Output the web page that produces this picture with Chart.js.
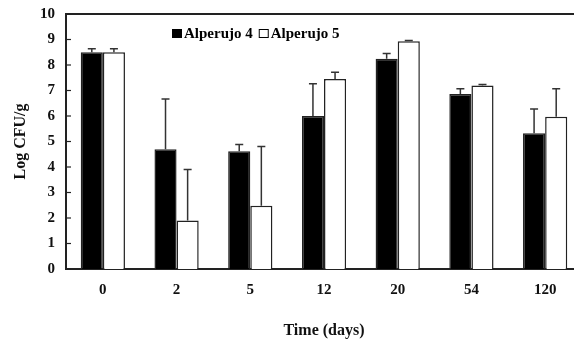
<!DOCTYPE html>
<html>
<head>
<meta charset="utf-8">
<script src="https://cdn.jsdelivr.net/npm/chart.js@4.4.1/dist/chart.umd.min.js"></script>
<style>
  html, body { margin: 0; padding: 0; background: #fff; overflow: hidden; }
  #wrap { position: relative; width: 582px; height: 346px; }
</style>
</head>
<body>
<div id="wrap"><canvas id="c" width="582" height="346"></canvas></div>
<script>
const categories = ['0', '2', '5', '12', '20', '54', '120'];
const seriesNames = ['Alperujo 4', 'Alperujo 5'];
const alperujo4 = [8.5, 4.7, 4.62, 6.0, 8.25, 6.86, 5.32];
const alperujo4Err = [0.14, 1.97, 0.26, 1.26, 0.2, 0.21, 0.95];
const alperujo5 = [8.5, 1.9, 2.48, 7.45, 8.93, 7.2, 5.97];
const alperujo5Err = [0.14, 2.0, 2.32, 0.27, 0.03, 0.04, 1.1];
const yTicks = [0, 1, 2, 3, 4, 5, 6, 7, 8, 9, 10];
const errs = [alperujo4Err, alperujo5Err];

const FONT = '"Liberation Serif", "Times New Roman", serif';

const frameAndErrors = {
  id: 'frameAndErrors',
  afterDatasetsDraw(chart) {
    const ctx = chart.ctx;
    const y = chart.scales.y;
    const area = chart.chartArea;
    ctx.save();
    ctx.strokeStyle = '#333';
    ctx.lineWidth = 1.5;
    chart.data.datasets.forEach((ds, i) => {
      const meta = chart.getDatasetMeta(i);
      meta.data.forEach((el, j) => {
        const top = y.getPixelForValue(ds.data[j] + errs[i][j]);
        const base = y.getPixelForValue(ds.data[j]);
        ctx.beginPath();
        ctx.moveTo(el.x, base);
        ctx.lineTo(el.x, top);
        ctx.moveTo(el.x - 4, top);
        ctx.lineTo(el.x + 4, top);
        ctx.stroke();
      });
    });
    ctx.strokeStyle = '#222';
    ctx.lineWidth = 2;
    ctx.beginPath();
    ctx.moveTo(area.left, area.top);
    ctx.lineTo(area.right, area.top);
    ctx.stroke();
    ctx.lineWidth = 1.2;
    yTicks.forEach(v => {
      const py = y.getPixelForValue(v);
      ctx.beginPath();
      ctx.moveTo(area.left, py);
      ctx.lineTo(area.left + 5, py);
      ctx.stroke();
    });
    ctx.restore();
  },
  afterDraw(chart) {
    const ctx = chart.ctx;
    ctx.save();
    ctx.font = 'bold 15px ' + FONT;
    ctx.textBaseline = 'alphabetic';
    ctx.fillStyle = '#000';
    let x = 172;
    const baseY = 38;
    ctx.fillRect(x, 29, 10, 9);
    x += 12;
    ctx.fillText(seriesNames[0], x, baseY);
    x += ctx.measureText(seriesNames[0]).width + 6;
    ctx.fillStyle = '#fff';
    ctx.strokeStyle = '#000';
    ctx.lineWidth = 1;
    ctx.fillRect(x, 29, 10, 9);
    ctx.strokeRect(x + 0.5, 29.5, 9, 8);
    x += 12;
    ctx.fillStyle = '#000';
    ctx.fillText(seriesNames[1], x, baseY);
    ctx.restore();
  }
};

new Chart(document.getElementById('c'), {
  type: 'bar',
  data: {
    labels: categories,
    datasets: [
      { label: seriesNames[0], data: alperujo4, backgroundColor: '#000', borderColor: '#222', borderWidth: 1.5,
        barPercentage: 1.0, categoryPercentage: 0.6 },
      { label: seriesNames[1], data: alperujo5, backgroundColor: '#fff', borderColor: '#222', borderWidth: 1.5,
        barPercentage: 1.0, categoryPercentage: 0.6 }
    ]
  },
  options: {
    responsive: false,
    animation: false,
    devicePixelRatio: 1,
    layout: { padding: { top: 14, left: 0, right: 0, bottom: 0 } },
    plugins: { legend: { display: false }, tooltip: { enabled: false } },
    scales: {
      x: {
        grid: { display: false, drawTicks: false },
        border: { display: true, color: '#222', width: 2 },
        ticks: { color: '#111', font: { family: FONT, size: 15, weight: 'bold' }, padding: 12 },
        title: { display: true, text: 'Time (days)', color: '#111',
                 font: { family: FONT, size: 16, weight: 'bold' }, padding: { top: 5, bottom: 6 } },
        afterFit(s) { s.height = 77; s.paddingLeft = 0; s.paddingRight = 0; }
      },
      y: {
        min: 0, max: 10,
        afterBuildTicks(s) { s.ticks = yTicks.map(v => ({ value: v })); },
        grid: { display: false, drawTicks: false },
        border: { display: true, color: '#222', width: 2 },
        ticks: { color: '#111', font: { family: FONT, size: 15, weight: 'bold' }, padding: 11 },
        title: { display: true, text: 'Log CFU/g', color: '#111',
                 font: { family: FONT, size: 16, weight: 'bold' }, padding: { top: 11, bottom: 10 } },
        afterFit(s) { s.width = 66; s.paddingTop = 0; s.paddingBottom = 0; }
      }
    }
  },
  plugins: [frameAndErrors]
});
</script>
</body>
</html>
